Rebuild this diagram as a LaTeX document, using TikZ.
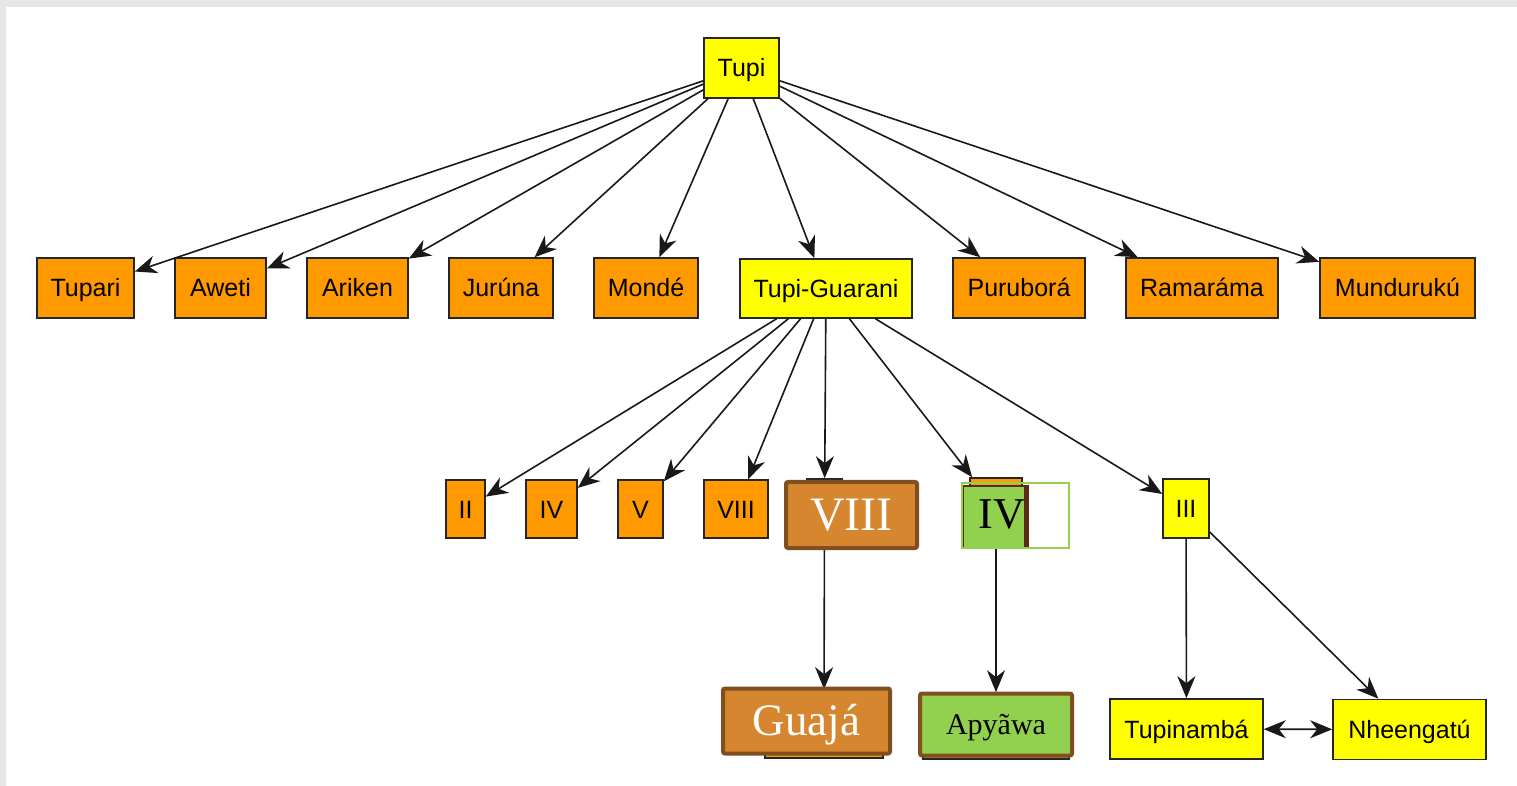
\documentclass[tikz,border=0pt]{standalone}
\usepackage{fontspec}
\setmainfont{Liberation Serif}
\setsansfont{Liberation Sans}
\usetikzlibrary{arrows.meta}

\definecolor{langorange}{HTML}{FF9900}
\definecolor{langyellow}{HTML}{FFFF00}
\definecolor{overfill}{HTML}{D5862F}
\definecolor{overline}{HTML}{7F4F1F}
\definecolor{overgreen}{HTML}{92D050}
\definecolor{ivdark}{HTML}{5B2A14}
\definecolor{framegrey}{HTML}{E6E6E6}

\tikzset{
  lang/.style={draw=black!85, line width=0.8pt, inner sep=0pt, minimum height=30pt,
    text height=9pt, text depth=0pt, font=\sffamily\fontsize{12.5}{14}\selectfont},
  orangebox/.style={lang, fill=langorange},
  yellowbox/.style={lang, fill=langyellow},
  overbox/.style={draw=overline, line width=2pt, rounded corners=1pt, inner sep=0pt, text depth=0pt},
  >={Stealth[length=11pt,width=9pt,inset=3.5pt]}
}

\begin{document}
\begin{tikzpicture}[x=0.5pt,y=-0.5pt]

      % frame
      \fill[framegrey] (0,0) rectangle (1517,786);
      \fill[white] (6,7) rectangle (1517,786);
      \useasboundingbox (0,0) rectangle (1517,786);

      \begin{scope}[every node/.style={orangebox}]
        \node[yellowbox, minimum width=37.5pt] (tupi) at (741.5,68) {Tupi};
        \node[minimum width=48.5pt] (tupari) at (85.5,288) {Tupari};
        \node[minimum width=45.5pt] (aweti)  at (220.5,288) {Aweti};
        \node[minimum width=50.5pt] (ariken) at (357.5,288) {Ariken};
        \node[minimum width=52pt]   (juruna) at (501,288) {Jurúna};
        \node[minimum width=52pt]   (monde)  at (646,288) {Mondé};
        \node[yellowbox, minimum width=86pt, minimum height=29.5pt] (tupiguarani) at (826,288.5) {Tupi-Guarani};
        \node[minimum width=66pt]   (purubora)  at (1019,288) {Puruborá};
        \node[minimum width=76pt]   (ramarama)  at (1202,288) {Ramaráma};
        \node[minimum width=77.5pt] (munduruku) at (1397.5,288) {Mundurukú};

        \node[minimum width=19.5pt, minimum height=29pt] (ii)   at (465.5,509) {II};
        \node[minimum width=25.5pt, minimum height=29pt] (iv)   at (551.5,509) {IV};
        \node[minimum width=22.5pt, minimum height=29pt] (v)    at (640.5,509) {V};
        \node[minimum width=32pt,   minimum height=29pt] (viii) at (736,509) {VIII};
        \node[minimum width=17.5pt] (viiib) at (824.5,509) {};
        \node[minimum width=26pt]   (ivb)   at (996,508) {};
        \node[yellowbox, minimum width=23pt, minimum height=29.5pt] (iii) at (1186,508.5) {III};

        \node[minimum width=59pt, minimum height=34pt] (guajab)  at (824,724) {};
        \node[minimum width=73pt, minimum height=33pt] (apyawab) at (996,726) {};
        \node[yellowbox, minimum width=76.5pt] (tupinamba) at (1186.5,729) {Tupinambá};
        \node[yellowbox, minimum width=76.5pt] (nheengatu) at (1409.5,729.5) {Nheengatú};
      \end{scope}

      \begin{scope}[every edge/.style={draw, draw=black!90, line width=0.8pt, ->}]
        \path (tupi) edge (tupari);
        \path (tupi) edge (aweti);
        \path (tupi) edge (ariken);
        \path (tupi) edge (juruna);
        \path (tupi) edge (monde);
        \path (tupi) edge (tupiguarani);
        \path (tupi) edge (purubora);
        \path (tupi) edge (ramarama);
        \path (tupi) edge (munduruku);
        \path (tupiguarani) edge (ii);
        \path (tupiguarani) edge (iv);
        \path (tupiguarani) edge (v);
        \path (tupiguarani) edge (viii);
        \path (tupiguarani) edge (viiib);
        \path (tupiguarani) edge (ivb);
        \path (tupiguarani) edge (iii);
        \path (viiib) edge (guajab);
        \path (ivb) edge (apyawab);
        \path (iii) edge (tupinamba);
        \path (iii) edge (nheengatu);
        \path (tupinamba) edge[<->] (nheengatu);
      \end{scope}

      % boxes laid over the chart
      \node[overbox, fill=overfill, text=white, minimum width=65.5pt, minimum height=33pt,
        text height=15.9pt, font=\fontsize{24}{26}\selectfont] (viiibox) at (851.5,515) {VIII};
      \node[overbox, fill=overfill, text=white, minimum width=83.5pt, minimum height=32.5pt,
        text height=14.9pt, font=\fontsize{22.5}{24}\selectfont] (guajabox) at (806.5,721) {Guajá};
      \node[overbox, fill=overgreen, minimum width=76pt, minimum height=31pt,
        text height=9.9pt, font=\fontsize{15}{17}\selectfont] (apyawabox) at (996,724.5) {Apyãwa};
      \node[draw=ivdark, line width=1pt, fill=overgreen, inner sep=0pt, minimum width=31.5pt,
        minimum height=31pt] (ivbox) at (994,517) {};
      \draw[ivdark, line width=2.5pt] (ivbox.north east) -- (ivbox.south east);
      \node[draw=overgreen, line width=1pt, minimum width=53.5pt, minimum height=32.5pt]
        (ivframe) at (1015.5,515.5) {};
      \node[inner sep=0pt, text height=14.6pt, text depth=0pt, font=\fontsize{22}{24}\selectfont]
        (ivtext) at (1002,514) {IV};

    \end{tikzpicture}
\end{document}
